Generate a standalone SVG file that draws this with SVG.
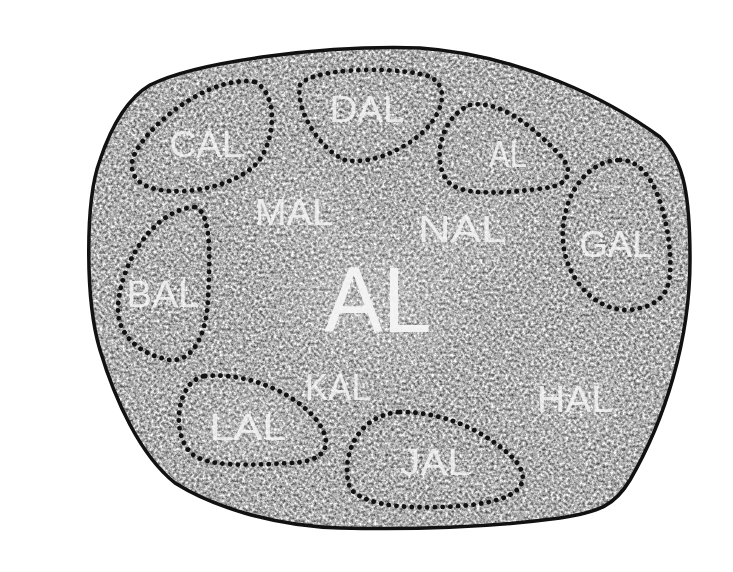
<svg xmlns="http://www.w3.org/2000/svg" width="733" height="572" viewBox="0 0 733 572">
<style>
.zone{fill:none;stroke:#111;stroke-width:4.8;stroke-dasharray:0.1 7.6;stroke-linecap:round}
.lbl{font-family:"Liberation Sans",Arial,sans-serif;font-size:36px;fill:#f6f6f6;fill-opacity:0.85;text-anchor:middle}
.big{font-size:92px;fill-opacity:0.95}
</style>
<defs>
<clipPath id="blobClip"><path id="blobShape" d="M150,85 C200,60 330,45 420,48 C520,55 610,100 660,137 C685,160 690,200 690,260 C690,340 665,420 630,480 C615,505 600,512 560,518 C500,526 420,530 340,528 C270,526 210,505 175,483 C140,455 115,400 100,350 C85,300 85,200 100,160 C110,130 125,100 150,85 Z"/></clipPath>
<filter id="grain" x="0" y="0" width="100%" height="100%" color-interpolation-filters="sRGB">
<feTurbulence type="fractalNoise" baseFrequency="0.35" numOctaves="3" seed="7"/>
<feColorMatrix type="matrix" values="1.1 0 0 0 0.13  1.1 0 0 0 0.13  1.1 0 0 0 0.13  0 0 0 0 1"/>
<feGaussianBlur stdDeviation="0.5"/>
</filter>
<filter id="soft" x="-50%" y="-50%" width="200%" height="200%"><feGaussianBlur stdDeviation="25"/></filter>
<filter id="txt"><feGaussianBlur stdDeviation="0.6"/></filter>
</defs>
<rect width="733" height="572" fill="#ffffff"/>
<g id="body" clip-path="url(#blobClip)">
<rect x="80" y="40" width="620" height="500" fill="#a8a8a8" filter="url(#grain)"/>
<g fill="#ffffff" opacity="0.15" filter="url(#soft)">
<ellipse cx="375" cy="300" rx="80" ry="60"/>
<ellipse cx="300" cy="210" rx="50" ry="30"/>
<ellipse cx="470" cy="230" rx="50" ry="30"/>
<ellipse cx="250" cy="425" rx="50" ry="30"/>
<ellipse cx="570" cy="395" rx="45" ry="30"/>
</g>
</g>
<use href="#blobShape" fill="none" stroke="#111" stroke-width="3.5"/>
<g id="connectors"/>
<g id="zones">
<g id="CAL"><path class="zone" d="M255,82 C280,95 275,145 255,165 C235,185 190,195 160,190 C130,185 125,165 140,145 C160,115 215,75 255,82 Z"/><text class="lbl" x="206" y="157" textLength="73" lengthAdjust="spacingAndGlyphs" filter="url(#txt)">CAL</text></g>
<g id="DAL"><path class="zone" d="M300,85 C310,70 380,65 425,75 C450,82 445,110 425,130 C405,150 370,165 345,160 C320,150 295,110 300,85 Z"/><text class="lbl" x="367" y="122" textLength="75" lengthAdjust="spacingAndGlyphs" filter="url(#txt)">DAL</text></g>
<g id="AL-top"><path class="zone" d="M470,105 C500,100 530,125 555,150 C575,168 572,185 545,188 C515,192 470,197 452,185 C432,172 435,120 470,105 Z"/><text class="lbl" x="508" y="167" textLength="38" lengthAdjust="spacingAndGlyphs" filter="url(#txt)">AL</text></g>
<g id="GAL"><path class="zone" d="M620,160 C655,160 668,220 670,255 C672,290 665,305 630,310 C590,312 560,270 563,230 C565,190 590,160 620,160 Z"/><text class="lbl" x="616" y="257" textLength="73" lengthAdjust="spacingAndGlyphs" filter="url(#txt)">GAL</text></g>
<g id="BAL"><path class="zone" d="M195,207 C212,212 210,260 208,300 C206,340 190,362 170,360 C140,355 118,335 118,310 C118,270 150,210 195,207 Z"/><text class="lbl" x="163" y="307" textLength="73" lengthAdjust="spacingAndGlyphs" filter="url(#txt)">BAL</text></g>
<g id="LAL"><path class="zone" d="M205,376 C250,372 300,395 320,425 C335,450 320,462 290,463 C250,465 205,468 190,452 C170,430 178,380 205,376 Z"/><text class="lbl" x="248" y="440" textLength="77" lengthAdjust="spacingAndGlyphs" filter="url(#txt)">LAL</text></g>
<g id="JAL"><path class="zone" d="M400,412 C450,412 490,435 515,460 C535,485 515,500 470,505 C420,510 365,508 350,488 C340,460 355,415 400,412 Z"/><text class="lbl" x="435" y="475" textLength="70" lengthAdjust="spacingAndGlyphs" filter="url(#txt)">JAL</text></g>
<g id="MAL"><text class="lbl" x="294" y="225" textLength="78" lengthAdjust="spacingAndGlyphs" filter="url(#txt)">MAL</text></g>
<g id="NAL"><text class="lbl" x="462" y="242" textLength="88" lengthAdjust="spacingAndGlyphs" filter="url(#txt)">NAL</text></g>
<g id="KAL"><text class="lbl" x="338" y="400" textLength="66" lengthAdjust="spacingAndGlyphs" filter="url(#txt)">KAL</text></g>
<g id="HAL"><text class="lbl" x="575" y="412" textLength="76" lengthAdjust="spacingAndGlyphs" filter="url(#txt)">HAL</text></g>
<g id="AL"><text class="lbl big" x="378" y="332" textLength="107" lengthAdjust="spacingAndGlyphs" filter="url(#txt)">AL</text></g>
</g>
</svg>
